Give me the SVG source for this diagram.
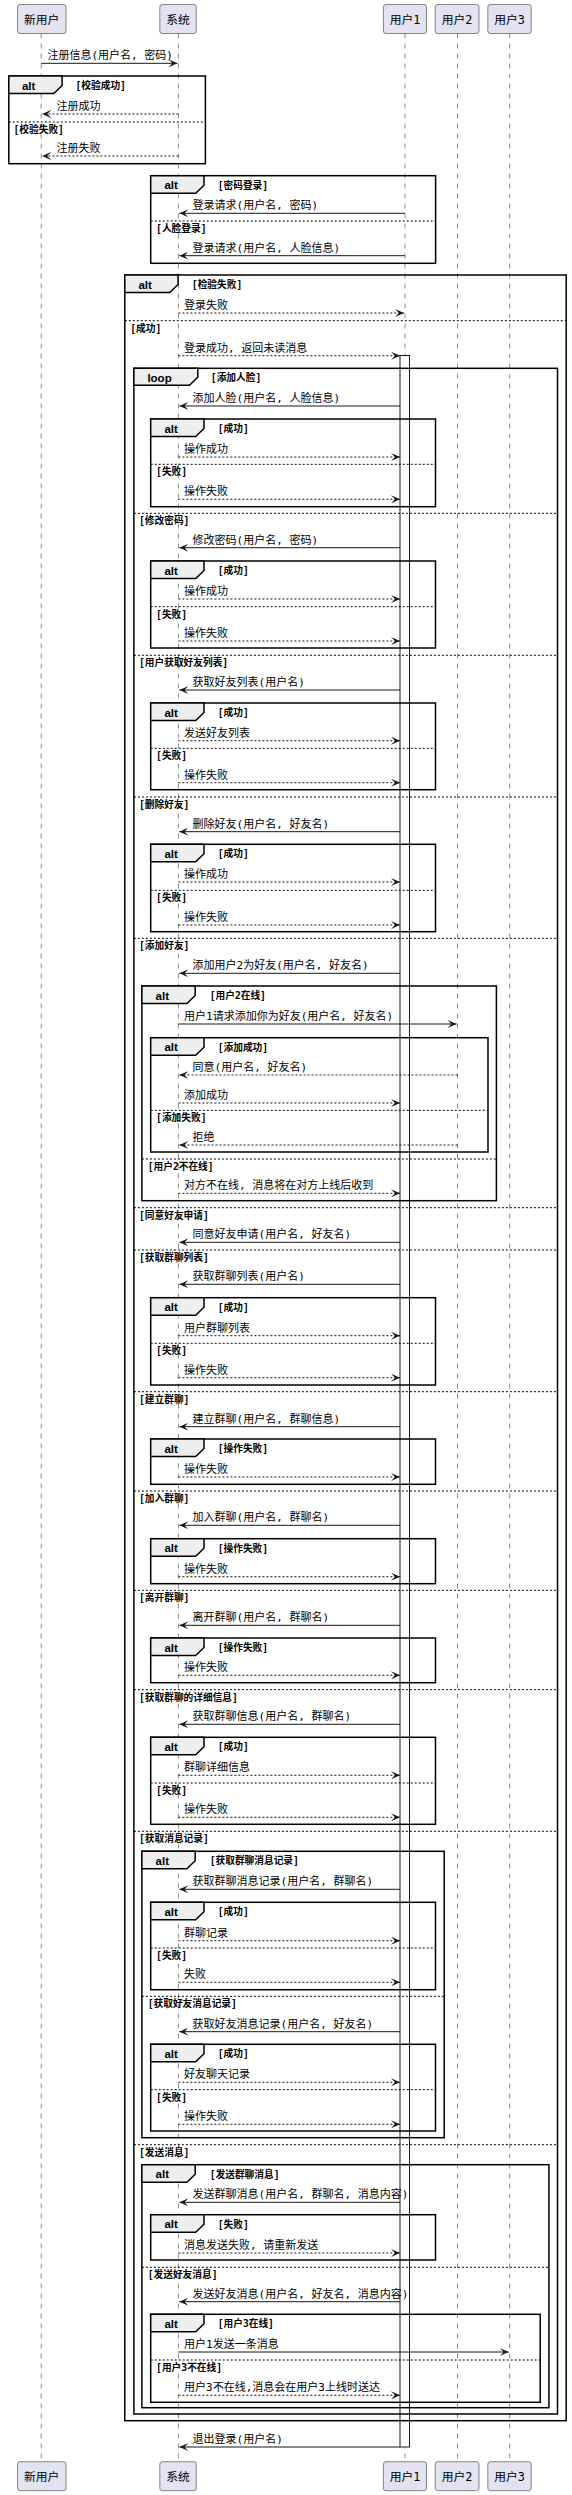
<svg xmlns="http://www.w3.org/2000/svg" width="572" height="2495" viewBox="0 0 572 2495">
<style>
.bg{fill:#FFFFFF}
.pb{fill:#E2E2F0;stroke:#181818;stroke-width:0.5}
.pt{font-family:"DejaVu Sans Mono","Noto Sans CJK SC",monospace;font-size:11.8px;fill:#000;text-anchor:middle}
.ll{stroke:#181818;stroke-width:0.5;stroke-dasharray:5,5;fill:none}
.fr{fill:none;stroke:#000;stroke-width:1.5}
.tab{fill:#EEEEEE;stroke:#000;stroke-width:1.5}
.sep{stroke:#000;stroke-width:1;stroke-dasharray:2,2;fill:none}
.m{stroke:#181818;stroke-width:1;fill:none;marker-end:url(#ah)}
.d{stroke:#181818;stroke-width:1;stroke-dasharray:2,2;fill:none;marker-end:url(#ah)}
.mt{font-family:"DejaVu Sans Mono","Noto Sans CJK SC",monospace;font-size:11px;fill:#000}
.gt{font-family:"DejaVu Sans Mono","Noto Sans CJK SC",monospace;font-size:9.7px;font-weight:bold;fill:#000}
.kw{font-family:"Liberation Sans",Arial,sans-serif;font-size:11.5px;font-weight:bold;fill:#000}
.act{fill:#FFFFFF;stroke:#181818;stroke-width:1}
</style>
<defs>
<marker id="ah" viewBox="0 0 10 8" refX="9" refY="4" markerWidth="10" markerHeight="8" markerUnits="userSpaceOnUse" orient="auto"><path d="M0,0 L9,4 L0,8 L4,4 Z" fill="#181818"/></marker>
</defs>
<rect class="bg" x="0" y="0" width="572" height="2495"/>
<g id="lifelines">
<line class="ll" x1="41.2" y1="33.5" x2="41.2" y2="2461.5"/>
<line class="ll" x1="178.4" y1="33.5" x2="178.4" y2="2461.5"/>
<line class="ll" x1="405" y1="33.5" x2="405" y2="2461.5"/>
<line class="ll" x1="457.5" y1="33.5" x2="457.5" y2="2461.5"/>
<line class="ll" x1="509.7" y1="33.5" x2="509.7" y2="2461.5"/>
</g>
<g id="p-newuser">
<rect class="pb" x="17.5" y="4.5" width="48.5" height="29" rx="2.5"/><text class="pt" x="41.7" y="23.5">新用户</text>
<rect class="pb" x="17.5" y="2461.7" width="48.5" height="29" rx="2.5"/><text class="pt" x="41.7" y="2480.7">新用户</text>
</g>
<g id="p-system">
<rect class="pb" x="159.8" y="4.5" width="36.5" height="29" rx="2.5"/><text class="pt" x="178.1" y="23.5">系统</text>
<rect class="pb" x="159.8" y="2461.7" width="36.5" height="29" rx="2.5"/><text class="pt" x="178.1" y="2480.7">系统</text>
</g>
<g id="p-user1">
<rect class="pb" x="383.4" y="4.5" width="43.1" height="29" rx="2.5"/><text class="pt" x="405" y="23.5">用户1</text>
<rect class="pb" x="383.4" y="2461.7" width="43.1" height="29" rx="2.5"/><text class="pt" x="405" y="2480.7">用户1</text>
</g>
<g id="p-user2">
<rect class="pb" x="435.2" y="4.5" width="43.8" height="29" rx="2.5"/><text class="pt" x="457.1" y="23.5">用户2</text>
<rect class="pb" x="435.2" y="2461.7" width="43.8" height="29" rx="2.5"/><text class="pt" x="457.1" y="2480.7">用户2</text>
</g>
<g id="p-user3">
<rect class="pb" x="487.8" y="4.5" width="43.4" height="29" rx="2.5"/><text class="pt" x="509.5" y="23.5">用户3</text>
<rect class="pb" x="487.8" y="2461.7" width="43.4" height="29" rx="2.5"/><text class="pt" x="509.5" y="2480.7">用户3</text>
</g>
<g id="activation">
<rect class="act" x="400" y="355.5" width="9.5" height="2091.5"/>
</g>
<g id="fragments">
<!-- F1 -->
<rect class="fr" x="8.8" y="76" width="196.6" height="87.7"/>
<polygon class="tab" points="8.8,76 62.1,76 62.1,85.5 53.8,93.5 8.8,93.5"/>
<text class="kw" x="21.9" y="89.5">alt</text><text class="gt" x="75.5" y="89">[校验成功]</text>
<line class="sep" x1="8.8" y1="122" x2="205.4" y2="122"/><text class="gt" x="13.5" y="133">[校验失败]</text>
<!-- F2 -->
<rect class="fr" x="150.7" y="175.7" width="284.9" height="87.6"/>
<polygon class="tab" points="150.7,175.7 204,175.7 204,185.2 195.7,193.2 150.7,193.2"/>
<text class="kw" x="164.4" y="189.2">alt</text><text class="gt" x="217.7" y="188.7">[密码登录]</text>
<line class="sep" x1="150.7" y1="221" x2="435.6" y2="221"/><text class="gt" x="156.1" y="232">[人脸登录]</text>
<!-- F3 -->
<rect class="fr" x="124.8" y="275" width="441.4" height="2145.7"/>
<polygon class="tab" points="124.8,275 178.1,275 178.1,284.5 169.8,292.5 124.8,292.5"/>
<text class="kw" x="138.4" y="288.5">alt</text><text class="gt" x="191.8" y="288">[检验失败]</text>
<line class="sep" x1="124.8" y1="320.7" x2="566.2" y2="320.7"/><text class="gt" x="130.2" y="331.7">[成功]</text>
<!-- Loop -->
<rect class="fr" x="133.9" y="368.3" width="423.6" height="2045.7"/>
<polygon class="tab" points="133.9,368.3 197.8,368.3 197.8,377.3 189.5,385.3 133.9,385.3"/>
<text class="kw" x="147.4" y="381.5">loop</text><text class="gt" x="210.8" y="381">[添加人脸]</text>
<line class="sep" x1="133.9" y1="513.3" x2="557.5" y2="513.3"/><text class="gt" x="139" y="524.3">[修改密码]</text>
<line class="sep" x1="133.9" y1="655.3" x2="557.5" y2="655.3"/><text class="gt" x="139" y="666.3">[用户获取好友列表]</text>
<line class="sep" x1="133.9" y1="797" x2="557.5" y2="797"/><text class="gt" x="139" y="808">[删除好友]</text>
<line class="sep" x1="133.9" y1="938.3" x2="557.5" y2="938.3"/><text class="gt" x="139" y="949.3">[添加好友]</text>
<line class="sep" x1="133.9" y1="1207.7" x2="557.5" y2="1207.7"/><text class="gt" x="139" y="1218.7">[同意好友申请]</text>
<line class="sep" x1="133.9" y1="1250" x2="557.5" y2="1250"/><text class="gt" x="139" y="1261">[获取群聊列表]</text>
<line class="sep" x1="133.9" y1="1391.7" x2="557.5" y2="1391.7"/><text class="gt" x="139" y="1402.7">[建立群聊]</text>
<line class="sep" x1="133.9" y1="1491" x2="557.5" y2="1491"/><text class="gt" x="139" y="1502">[加入群聊]</text>
<line class="sep" x1="133.9" y1="1590.3" x2="557.5" y2="1590.3"/><text class="gt" x="139" y="1601.3">[离开群聊]</text>
<line class="sep" x1="133.9" y1="1689.7" x2="557.5" y2="1689.7"/><text class="gt" x="139" y="1700.7">[获取群聊的详细信息]</text>
<line class="sep" x1="133.9" y1="1831.3" x2="557.5" y2="1831.3"/><text class="gt" x="139" y="1842.3">[获取消息记录]</text>
<line class="sep" x1="133.9" y1="2144.7" x2="557.5" y2="2144.7"/><text class="gt" x="139" y="2155.7">[发送消息]</text>
<!-- a1 -->
<rect class="fr" x="150.7" y="419" width="284.8" height="87.7"/>
<polygon class="tab" points="150.7,419 204,419 204,428.5 195.7,436.5 150.7,436.5"/>
<text class="kw" x="164.4" y="432.5">alt</text><text class="gt" x="217.7" y="432">[成功]</text>
<line class="sep" x1="150.7" y1="464.3" x2="435.5" y2="464.3"/><text class="gt" x="156.1" y="475.3">[失败]</text>
<!-- a2 -->
<rect class="fr" x="150.7" y="561" width="284.8" height="87"/>
<polygon class="tab" points="150.7,561 204,561 204,570.5 195.7,578.5 150.7,578.5"/>
<text class="kw" x="164.4" y="574.5">alt</text><text class="gt" x="217.7" y="574">[成功]</text>
<line class="sep" x1="150.7" y1="606.7" x2="435.5" y2="606.7"/><text class="gt" x="156.1" y="617.7">[失败]</text>
<!-- a3 -->
<rect class="fr" x="150.7" y="703" width="284.8" height="86.7"/>
<polygon class="tab" points="150.7,703 204,703 204,712.5 195.7,720.5 150.7,720.5"/>
<text class="kw" x="164.4" y="716.5">alt</text><text class="gt" x="217.7" y="716">[成功]</text>
<line class="sep" x1="150.7" y1="748.3" x2="435.5" y2="748.3"/><text class="gt" x="156.1" y="759.3">[失败]</text>
<!-- a4 -->
<rect class="fr" x="150.7" y="844.3" width="284.8" height="87.4"/>
<polygon class="tab" points="150.7,844.3 204,844.3 204,853.8 195.7,861.8 150.7,861.8"/>
<text class="kw" x="164.4" y="857.8">alt</text><text class="gt" x="217.7" y="857.3">[成功]</text>
<line class="sep" x1="150.7" y1="890.3" x2="435.5" y2="890.3"/><text class="gt" x="156.1" y="901.3">[失败]</text>
<!-- B -->
<rect class="fr" x="141.9" y="986" width="354.5" height="214.7"/>
<polygon class="tab" points="141.9,986 195.2,986 195.2,995.5 186.9,1003.5 141.9,1003.5"/>
<text class="kw" x="155.6" y="999.5">alt</text><text class="gt" x="209.7" y="999">[用户2在线]</text>
<line class="sep" x1="141.9" y1="1159" x2="496.4" y2="1159"/><text class="gt" x="147.7" y="1170">[用户2不在线]</text>
<!-- C -->
<rect class="fr" x="150.7" y="1037.7" width="337.3" height="114.3"/>
<polygon class="tab" points="150.7,1037.7 204,1037.7 204,1047.2 195.7,1055.2 150.7,1055.2"/>
<text class="kw" x="164.4" y="1051.2">alt</text><text class="gt" x="217.7" y="1050.7">[添加成功]</text>
<line class="sep" x1="150.7" y1="1110.3" x2="488" y2="1110.3"/><text class="gt" x="156.1" y="1121.3">[添加失败]</text>
<!-- a5 -->
<rect class="fr" x="150.7" y="1297.7" width="284.8" height="87.3"/>
<polygon class="tab" points="150.7,1297.7 204,1297.7 204,1307.2 195.7,1315.2 150.7,1315.2"/>
<text class="kw" x="164.4" y="1311.2">alt</text><text class="gt" x="217.7" y="1310.7">[成功]</text>
<line class="sep" x1="150.7" y1="1343.3" x2="435.5" y2="1343.3"/><text class="gt" x="156.1" y="1354.3">[失败]</text>
<!-- a6 -->
<rect class="fr" x="150.7" y="1439" width="284.8" height="45.3"/>
<polygon class="tab" points="150.7,1439 204,1439 204,1448.5 195.7,1456.5 150.7,1456.5"/>
<text class="kw" x="164.4" y="1452.5">alt</text><text class="gt" x="217.7" y="1452">[操作失败]</text>
<!-- a7 -->
<rect class="fr" x="150.7" y="1538.7" width="284.8" height="45"/>
<polygon class="tab" points="150.7,1538.7 204,1538.7 204,1548.2 195.7,1556.2 150.7,1556.2"/>
<text class="kw" x="164.4" y="1552.2">alt</text><text class="gt" x="217.7" y="1551.7">[操作失败]</text>
<!-- a8 -->
<rect class="fr" x="150.7" y="1638" width="284.8" height="44.7"/>
<polygon class="tab" points="150.7,1638 204,1638 204,1647.5 195.7,1655.5 150.7,1655.5"/>
<text class="kw" x="164.4" y="1651.5">alt</text><text class="gt" x="217.7" y="1651">[操作失败]</text>
<!-- a9 -->
<rect class="fr" x="150.7" y="1737.3" width="284.8" height="87"/>
<polygon class="tab" points="150.7,1737.3 204,1737.3 204,1746.8 195.7,1754.8 150.7,1754.8"/>
<text class="kw" x="164.4" y="1750.8">alt</text><text class="gt" x="217.7" y="1750.3">[成功]</text>
<line class="sep" x1="150.7" y1="1783" x2="435.5" y2="1783"/><text class="gt" x="156.1" y="1794">[失败]</text>
<!-- D -->
<rect class="fr" x="141.9" y="1851.3" width="302.3" height="286.4"/>
<polygon class="tab" points="141.9,1851.3 195.2,1851.3 195.2,1860.8 186.9,1868.8 141.9,1868.8"/>
<text class="kw" x="155.6" y="1864.8">alt</text><text class="gt" x="209.7" y="1864.3">[获取群聊消息记录]</text>
<line class="sep" x1="141.9" y1="1996.3" x2="444.2" y2="1996.3"/><text class="gt" x="147.7" y="2007.3">[获取好友消息记录]</text>
<!-- a10 -->
<rect class="fr" x="150.7" y="1902.3" width="284.8" height="87.4"/>
<polygon class="tab" points="150.7,1902.3 204,1902.3 204,1911.8 195.7,1919.8 150.7,1919.8"/>
<text class="kw" x="164.4" y="1915.8">alt</text><text class="gt" x="217.7" y="1915.3">[成功]</text>
<line class="sep" x1="150.7" y1="1948" x2="435.5" y2="1948"/><text class="gt" x="156.1" y="1959">[失败]</text>
<!-- a11 -->
<rect class="fr" x="150.7" y="2044.3" width="284.8" height="86.7"/>
<polygon class="tab" points="150.7,2044.3 204,2044.3 204,2053.8 195.7,2061.8 150.7,2061.8"/>
<text class="kw" x="164.4" y="2057.8">alt</text><text class="gt" x="217.7" y="2057.3">[成功]</text>
<line class="sep" x1="150.7" y1="2089.7" x2="435.5" y2="2089.7"/><text class="gt" x="156.1" y="2100.7">[失败]</text>
<!-- E -->
<rect class="fr" x="141.9" y="2164.7" width="407" height="243"/>
<polygon class="tab" points="141.9,2164.7 195.2,2164.7 195.2,2174.2 186.9,2182.2 141.9,2182.2"/>
<text class="kw" x="155.6" y="2178.2">alt</text><text class="gt" x="209.7" y="2177.7">[发送群聊消息]</text>
<line class="sep" x1="141.9" y1="2267.3" x2="548.9" y2="2267.3"/><text class="gt" x="147.7" y="2278.3">[发送好友消息]</text>
<!-- a12 -->
<rect class="fr" x="150.7" y="2214.7" width="284.8" height="45.3"/>
<polygon class="tab" points="150.7,2214.7 204,2214.7 204,2224.2 195.7,2232.2 150.7,2232.2"/>
<text class="kw" x="164.4" y="2228.2">alt</text><text class="gt" x="217.7" y="2227.7">[失败]</text>
<!-- F -->
<rect class="fr" x="150.7" y="2314.3" width="389.5" height="88"/>
<polygon class="tab" points="150.7,2314.3 204,2314.3 204,2323.8 195.7,2331.8 150.7,2331.8"/>
<text class="kw" x="164.4" y="2327.8">alt</text><text class="gt" x="217.7" y="2327.3">[用户3在线]</text>
<line class="sep" x1="150.7" y1="2360" x2="540.2" y2="2360"/><text class="gt" x="156.1" y="2371">[用户3不在线]</text>
</g>
<g id="connectors">
<line class="m" x1="41.2" y1="63.3" x2="177.4" y2="63.3"/><text class="mt" x="47.4" y="59.3">注册信息(用户名, 密码)</text>
<line class="d" x1="178.4" y1="114" x2="42.2" y2="114"/><text class="mt" x="56.6" y="110">注册成功</text>
<line class="d" x1="178.4" y1="156" x2="42.2" y2="156"/><text class="mt" x="56.6" y="152">注册失败</text>
<line class="m" x1="405" y1="213.3" x2="179.4" y2="213.3"/><text class="mt" x="192.6" y="209.3">登录请求(用户名, 密码)</text>
<line class="m" x1="405" y1="255.7" x2="179.4" y2="255.7"/><text class="mt" x="192.6" y="251.7">登录请求(用户名, 人脸信息)</text>
<line class="d" x1="178.4" y1="313" x2="404" y2="313"/><text class="mt" x="184.1" y="309">登录失败</text>
<line class="d" x1="178.4" y1="355.7" x2="400" y2="355.7"/><text class="mt" x="184.1" y="351.7">登录成功, 返回未读消息</text>
<line class="m" x1="400" y1="406" x2="179.4" y2="406"/><text class="mt" x="192.6" y="402">添加人脸(用户名, 人脸信息)</text>
<line class="d" x1="178.4" y1="457" x2="400" y2="457"/><text class="mt" x="184.1" y="453">操作成功</text>
<line class="d" x1="178.4" y1="499.3" x2="400" y2="499.3"/><text class="mt" x="184.1" y="495.3">操作失败</text>
<line class="m" x1="400" y1="547.7" x2="179.4" y2="547.7"/><text class="mt" x="192.6" y="543.7">修改密码(用户名, 密码)</text>
<line class="d" x1="178.4" y1="599" x2="400" y2="599"/><text class="mt" x="184.1" y="595">操作成功</text>
<line class="d" x1="178.4" y1="641" x2="400" y2="641"/><text class="mt" x="184.1" y="637">操作失败</text>
<line class="m" x1="400" y1="690" x2="179.4" y2="690"/><text class="mt" x="192.6" y="686">获取好友列表(用户名)</text>
<line class="d" x1="178.4" y1="740.7" x2="400" y2="740.7"/><text class="mt" x="184.1" y="736.7">发送好友列表</text>
<line class="d" x1="178.4" y1="782.7" x2="400" y2="782.7"/><text class="mt" x="184.1" y="778.7">操作失败</text>
<line class="m" x1="400" y1="831.7" x2="179.4" y2="831.7"/><text class="mt" x="192.6" y="827.7">删除好友(用户名, 好友名)</text>
<line class="d" x1="178.4" y1="882" x2="400" y2="882"/><text class="mt" x="184.1" y="878">操作成功</text>
<line class="d" x1="178.4" y1="925" x2="400" y2="925"/><text class="mt" x="184.1" y="921">操作失败</text>
<line class="m" x1="400" y1="973.3" x2="179.4" y2="973.3"/><text class="mt" x="192.6" y="969.3">添加用户2为好友(用户名, 好友名)</text>
<line class="m" x1="178.4" y1="1024" x2="456.5" y2="1024"/><text class="mt" x="184.1" y="1020">用户1请求添加你为好友(用户名, 好友名)</text>
<line class="d" x1="457.5" y1="1075" x2="179.4" y2="1075"/><text class="mt" x="192.6" y="1071">同意(用户名, 好友名)</text>
<line class="d" x1="178.4" y1="1103" x2="400" y2="1103"/><text class="mt" x="184.1" y="1099">添加成功</text>
<line class="d" x1="457.5" y1="1145" x2="179.4" y2="1145"/><text class="mt" x="192.6" y="1141">拒绝</text>
<line class="d" x1="178.4" y1="1193.3" x2="400" y2="1193.3"/><text class="mt" x="184.1" y="1189.3">对方不在线, 消息将在对方上线后收到</text>
<line class="m" x1="400" y1="1242.3" x2="179.4" y2="1242.3"/><text class="mt" x="192.6" y="1238.3">同意好友申请(用户名, 好友名)</text>
<line class="m" x1="400" y1="1284.3" x2="179.4" y2="1284.3"/><text class="mt" x="192.6" y="1280.3">获取群聊列表(用户名)</text>
<line class="d" x1="178.4" y1="1335.7" x2="400" y2="1335.7"/><text class="mt" x="184.1" y="1331.7">用户群聊列表</text>
<line class="d" x1="178.4" y1="1377.7" x2="400" y2="1377.7"/><text class="mt" x="184.1" y="1373.7">操作失败</text>
<line class="m" x1="400" y1="1426.7" x2="179.4" y2="1426.7"/><text class="mt" x="192.6" y="1422.7">建立群聊(用户名, 群聊信息)</text>
<line class="d" x1="178.4" y1="1477" x2="400" y2="1477"/><text class="mt" x="184.1" y="1473">操作失败</text>
<line class="m" x1="400" y1="1525.3" x2="179.4" y2="1525.3"/><text class="mt" x="192.6" y="1521.3">加入群聊(用户名, 群聊名)</text>
<line class="d" x1="178.4" y1="1576.7" x2="400" y2="1576.7"/><text class="mt" x="184.1" y="1572.7">操作失败</text>
<line class="m" x1="400" y1="1625.3" x2="179.4" y2="1625.3"/><text class="mt" x="192.6" y="1621.3">离开群聊(用户名, 群聊名)</text>
<line class="d" x1="178.4" y1="1675.3" x2="400" y2="1675.3"/><text class="mt" x="184.1" y="1671.3">操作失败</text>
<line class="m" x1="400" y1="1724.3" x2="179.4" y2="1724.3"/><text class="mt" x="192.6" y="1720.3">获取群聊信息(用户名, 群聊名)</text>
<line class="d" x1="178.4" y1="1775.3" x2="400" y2="1775.3"/><text class="mt" x="184.1" y="1771.3">群聊详细信息</text>
<line class="d" x1="178.4" y1="1817.3" x2="400" y2="1817.3"/><text class="mt" x="184.1" y="1813.3">操作失败</text>
<line class="m" x1="400" y1="1889.3" x2="179.4" y2="1889.3"/><text class="mt" x="192.6" y="1885.3">获取群聊消息记录(用户名, 群聊名)</text>
<line class="d" x1="178.4" y1="1940.7" x2="400" y2="1940.7"/><text class="mt" x="184.1" y="1936.7">群聊记录</text>
<line class="d" x1="178.4" y1="1982.3" x2="400" y2="1982.3"/><text class="mt" x="184.1" y="1978.3">失败</text>
<line class="m" x1="400" y1="2031.7" x2="179.4" y2="2031.7"/><text class="mt" x="192.6" y="2027.7">获取好友消息记录(用户名, 好友名)</text>
<line class="d" x1="178.4" y1="2082.3" x2="400" y2="2082.3"/><text class="mt" x="184.1" y="2078.3">好友聊天记录</text>
<line class="d" x1="178.4" y1="2124.3" x2="400" y2="2124.3"/><text class="mt" x="184.1" y="2120.3">操作失败</text>
<line class="m" x1="400" y1="2202.3" x2="179.4" y2="2202.3"/><text class="mt" x="192.6" y="2198.3">发送群聊消息(用户名, 群聊名, 消息内容)</text>
<line class="d" x1="178.4" y1="2253" x2="400" y2="2253"/><text class="mt" x="184.1" y="2249">消息发送失败, 请重新发送</text>
<line class="m" x1="400" y1="2301.7" x2="179.4" y2="2301.7"/><text class="mt" x="192.6" y="2297.7">发送好友消息(用户名, 好友名, 消息内容)</text>
<line class="m" x1="178.4" y1="2352" x2="508.7" y2="2352"/><text class="mt" x="184.1" y="2348">用户1发送一条消息</text>
<line class="d" x1="178.4" y1="2395.3" x2="400" y2="2395.3"/><text class="mt" x="184.1" y="2391.3">用户3不在线,消息会在用户3上线时送达</text>
<line class="m" x1="400" y1="2447" x2="179.4" y2="2447"/><text class="mt" x="192.6" y="2443">退出登录(用户名)</text>
</g>
</svg>
